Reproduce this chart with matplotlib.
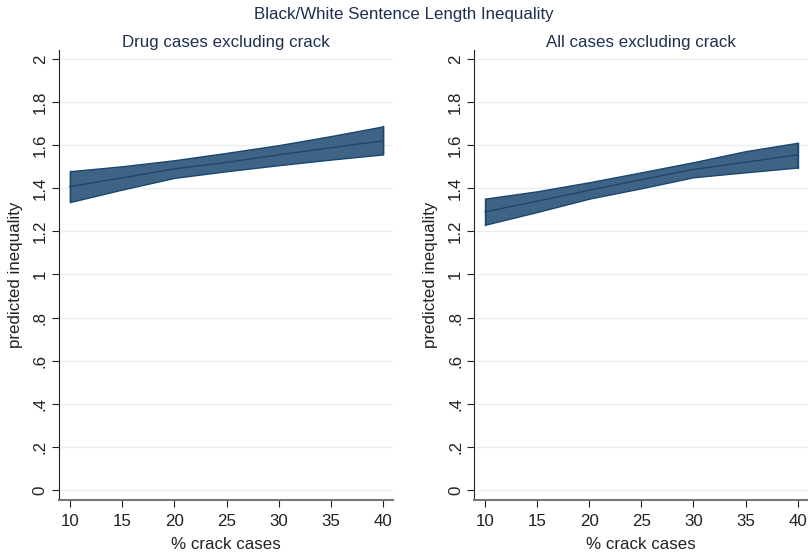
import matplotlib
matplotlib.use('Agg')
import matplotlib.pyplot as plt

plt.rcParams['font.family'] = ['Liberation Sans', 'DejaVu Sans']

# % crack cases
crack_pct = [10, 15, 20, 25, 30, 35, 40]

# Drug cases excluding crack
drug_mid = [1.408, 1.448, 1.49, 1.52, 1.555, 1.588, 1.62]
drug_lo = [1.336, 1.394, 1.448, 1.479, 1.507, 1.533, 1.557]
drug_hi = [1.479, 1.502, 1.53, 1.564, 1.60, 1.642, 1.687]

# All cases excluding crack
all_mid = [1.291, 1.34, 1.391, 1.44, 1.487, 1.521, 1.555]
all_lo = [1.231, 1.29, 1.352, 1.40, 1.451, 1.474, 1.496]
all_hi = [1.352, 1.386, 1.428, 1.474, 1.521, 1.572, 1.611]

panels = ['Drug cases excluding crack', 'All cases excluding crack']
y_ticks = [0, 0.2, 0.4, 0.6, 0.8, 1, 1.2, 1.4, 1.6, 1.8, 2]
y_labels = ['0', '.2', '.4', '.6', '.8', '1', '1.2', '1.4', '1.6', '1.8', '2']
x_ticks = [10, 15, 20, 25, 30, 35, 40]

text_col = '#1e2f4f'
fill_col = '#3e6385'
line_col = '#1a476f'

fig = plt.figure(figsize=(8.08, 5.54), dpi=100)
fig.text(0.5, 0.973, 'Black/White Sentence Length Inequality', ha='center', va='center',
         fontsize=12.2, color=text_col)

boxes = [[0.073, 0.0975, 0.414, 0.8125], [0.587, 0.0975, 0.413, 0.8125]]
data = [(drug_lo, drug_mid, drug_hi), (all_lo, all_mid, all_hi)]

for box, title, (lo, mid, hi) in zip(boxes, panels, data):
    ax = fig.add_axes(box)
    ax.fill_between(crack_pct, lo, hi, facecolor=fill_col, edgecolor=line_col, linewidth=1.0)
    ax.plot([crack_pct[0], crack_pct[0]], [lo[0], hi[0]], color=line_col, lw=1.0)
    ax.plot([crack_pct[-1], crack_pct[-1]], [lo[-1], hi[-1]], color=line_col, lw=1.0)
    ax.plot(crack_pct, mid, color=line_col, lw=1.0)
    ax.set_xlim(8.95, 41.0)
    ax.set_ylim(-0.046, 2.042)
    ax.set_yticks(y_ticks)
    ax.set_yticklabels(y_labels, rotation=90, va='center')
    ax.set_xticks(x_ticks)
    ax.grid(axis='y', color='#e8f0f2', lw=1)
    ax.set_axisbelow(True)
    for s in ['top', 'right']:
        ax.spines[s].set_visible(False)
    ax.spines['left'].set_color('#222222')
    ax.spines['bottom'].set_color('#777777')
    ax.spines['bottom'].set_linewidth(1.5)
    ax.tick_params(labelsize=12.2, colors='#222222', length=5, pad=3)
    ax.tick_params(axis='x', pad=5)
    ax.set_title(title, fontsize=12.2, color=text_col, pad=0)
    ax.set_xlabel('% crack cases', fontsize=12.2, color='#222222', labelpad=6)
    ax.set_ylabel('predicted inequality', fontsize=12.2, color='#222222', labelpad=7)

fig.savefig('out.png', dpi=100)
